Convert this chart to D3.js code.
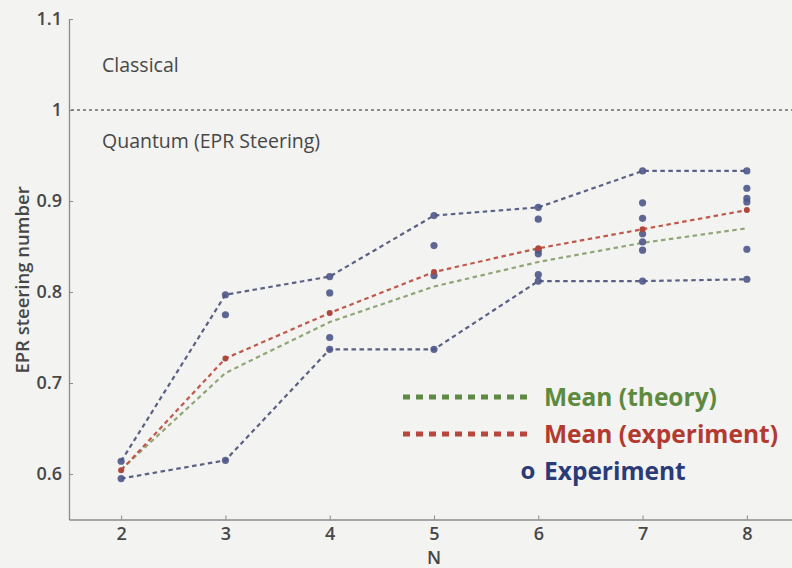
<!DOCTYPE html>
<html>
<head>
<meta charset="utf-8">
<script src="https://cdn.jsdelivr.net/npm/d3@7"></script>
<style>
  html, body { margin: 0; padding: 0; background: #f3f3f1; }
  svg { display: block; }
  text { font-family: "Open Sans", "Noto Sans", sans-serif; }
</style>
</head>
<body>
<svg id="chart" width="792" height="568"></svg>
<script>
// Number of measurement settings
const nValues = [2, 3, 4, 5, 6, 7, 8];

// Individual experimental steering numbers for each N
const experimentPoints = [
  [0.614, 0.595],
  [0.797, 0.775, 0.615],
  [0.817, 0.799, 0.750, 0.737],
  [0.884, 0.851, 0.818, 0.737],
  [0.893, 0.880, 0.846, 0.842, 0.819, 0.812],
  [0.933, 0.898, 0.881, 0.864, 0.855, 0.846, 0.812],
  [0.933, 0.914, 0.903, 0.899, 0.847, 0.814]
];

// Mean values
const meanExperiment = [0.604, 0.727, 0.777, 0.822, 0.848, 0.869, 0.890];
const meanTheory     = [0.605, 0.711, 0.767, 0.806, 0.833, 0.854, 0.870];

// Axis ticks
const xTicks = [2, 3, 4, 5, 6, 7, 8];
const yTicks = [0.6, 0.7, 0.8, 0.9, 1, 1.1];
const yTickLabels = ["0.6", "0.7", "0.8", "0.9", "1", "1.1"];

const boundValue = 1;

const svg = d3.select("#chart");

const x = d3.scaleLinear().domain([1.5, 8.5]).range([69, 799]);
const y = d3.scaleLinear().domain([0.55, 1.1]).range([519.5, 19]);

const axisColor = "#8a8a8a";
const labelColor = "#474747";

// Y axis
const yAxis = svg.append("g")
  .attr("transform", `translate(${x(1.5)},0)`)
  .call(d3.axisLeft(y)
    .tickValues(yTicks)
    .tickFormat((d, i) => yTickLabels[i])
    .tickSizeInner(-4)
    .tickSizeOuter(0)
    .tickPadding(7));
yAxis.select(".domain").attr("stroke", axisColor).attr("stroke-width", 1.3);
yAxis.selectAll(".tick line").attr("stroke", axisColor);
yAxis.selectAll(".tick text")
  .attr("fill", labelColor)
  .style("font-size", "18px")
  .style("font-weight", 600);

// X axis
const xAxis = svg.append("g")
  .attr("transform", `translate(0,${y(0.55)})`)
  .call(d3.axisBottom(x)
    .tickValues(xTicks)
    .tickFormat(d3.format("d"))
    .tickSizeInner(-4)
    .tickSizeOuter(0)
    .tickPadding(8));
xAxis.select(".domain").attr("stroke", axisColor).attr("stroke-width", 1.3);
xAxis.selectAll(".tick line").attr("stroke", axisColor);
xAxis.selectAll(".tick text")
  .attr("fill", labelColor)
  .style("font-size", "18px")
  .style("font-weight", 600);

// Axis titles
svg.append("text")
  .attr("transform", `translate(29,${280}) rotate(-90)`)
  .attr("text-anchor", "middle")
  .attr("fill", labelColor)
  .style("font-size", "18.5px")
  .style("font-weight", 600)
  .text("EPR steering number");

svg.append("text")
  .attr("x", x(5))
  .attr("y", 564)
  .attr("text-anchor", "middle")
  .attr("fill", labelColor)
  .style("font-size", "18px")
  .style("font-weight", 600)
  .text("N");

// Classical / quantum bound
svg.append("line")
  .attr("x1", x(1.5) + 2).attr("x2", 792)
  .attr("y1", y(boundValue)).attr("y2", y(boundValue))
  .attr("stroke", "#6a6a6a")
  .attr("stroke-width", 1.6)
  .attr("stroke-dasharray", "3,3");

svg.append("text")
  .attr("x", 102).attr("y", y(1.05) + 7)
  .attr("fill", labelColor)
  .style("font-size", "19.5px")
  .text("Classical");

svg.append("text")
  .attr("x", 102).attr("y", y(0.966) + 7)
  .attr("fill", labelColor)
  .style("font-size", "19.5px")
  .text("Quantum (EPR Steering)");

const line = d3.line().x(d => x(d[0])).y(d => y(d[1]));

// Envelope of experimental results
const upper = nValues.map((n, i) => [n, d3.max(experimentPoints[i])]);
const lower = nValues.map((n, i) => [n, d3.min(experimentPoints[i])]);
const envColor = "#5a6184";
[upper, lower].forEach(env => {
  svg.append("path")
    .attr("d", line(env))
    .attr("fill", "none")
    .attr("stroke", envColor)
    .attr("stroke-width", 2.2)
    .attr("stroke-dasharray", "4.5,3.5");
});

// Theory mean
const theoryColor = "#8fa677";
svg.append("path")
  .attr("d", line(nValues.map((n, i) => [n, meanTheory[i]])))
  .attr("fill", "none")
  .attr("stroke", theoryColor)
  .attr("stroke-width", 2.2)
  .attr("stroke-dasharray", "4.5,3.5");

// Experimental mean
const expColor = "#c0594c";
svg.append("path")
  .attr("d", line(nValues.map((n, i) => [n, meanExperiment[i]])))
  .attr("fill", "none")
  .attr("stroke", expColor)
  .attr("stroke-width", 2.2)
  .attr("stroke-dasharray", "4.5,3.5");

// Experimental points
const pts = nValues.flatMap((n, i) => experimentPoints[i].map(v => [n, v]));
svg.append("g").selectAll("circle")
  .data(pts)
  .join("circle")
  .attr("cx", d => x(d[0]))
  .attr("cy", d => y(d[1]))
  .attr("r", 3.6)
  .attr("fill", "#4e5789")
  .attr("fill-opacity", 0.9);

svg.append("g").selectAll("circle")
  .data(nValues.map((n, i) => [n, meanExperiment[i]]))
  .join("circle")
  .attr("cx", d => x(d[0]))
  .attr("cy", d => y(d[1]))
  .attr("r", 3)
  .attr("fill", "#b0473c");

// Legend
const legend = svg.append("g");
const legendItems = [
  { label: "Mean (theory)", color: "#5d8a3e", line: "#5f8a45", y: 397 },
  { label: "Mean (experiment)", color: "#b23a30", line: "#b8473d", y: 434 },
  { label: "Experiment", color: "#2b3a78", marker: true, y: 471 }
];
legendItems.forEach(it => {
  if (it.marker) {
    legend.append("text")
      .attr("x", 528).attr("y", it.y + 8)
      .attr("text-anchor", "middle")
      .attr("fill", it.color)
      .style("font-size", "24px")
      .style("font-weight", 700)
      .text("o");
  } else {
    legend.append("line")
      .attr("x1", 403).attr("x2", 528)
      .attr("y1", it.y).attr("y2", it.y)
      .attr("stroke", it.line)
      .attr("stroke-width", 5)
      .attr("stroke-dasharray", "7,6");
  }
  legend.append("text")
    .attr("x", 544).attr("y", it.y + 9)
    .attr("fill", it.color)
    .style("font-size", "24.5px")
    .style("font-weight", 700)
    .text(it.label);
});
</script>
</body>
</html>
